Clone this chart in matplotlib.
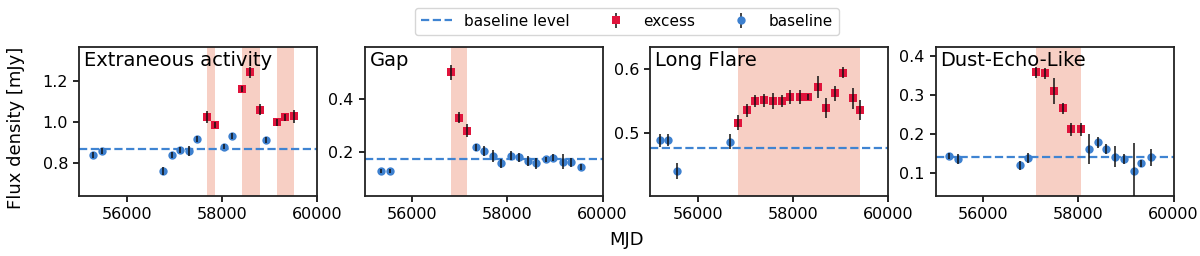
import matplotlib
matplotlib.use("Agg")
import matplotlib.pyplot as plt

# ---------------- data ----------------
titles = ["Extraneous activity", "Gap", "Long Flare", "Dust-Echo-Like"]

# Panel 1: Extraneous activity
p1_base_x = [55283, 55480, 56761, 56951, 57112, 57302, 57479, 58041, 58204, 58936]
p1_base_y = [0.839, 0.860, 0.761, 0.839, 0.863, 0.859, 0.917, 0.880, 0.932, 0.912]
p1_base_e = [0.014, 0.014, 0.018, 0.015, 0.015, 0.026, 0.013, 0.013, 0.015, 0.013]
p1_exc_x = [57687, 57856, 58419, 58588, 58791, 59158, 59319, 59517]
p1_exc_y = [1.023, 0.985, 1.161, 1.242, 1.060, 0.998, 1.023, 1.028]
p1_exc_e = [0.030, 0.016, 0.015, 0.029, 0.027, 0.017, 0.016, 0.033]
p1_level = 0.867
p1_spans = [(57687, 57856), (58419, 58791), (59158, 59517)]

# Panel 2: Gap
p2_base_x = [55338, 55527, 57348, 57516, 57696, 57872, 58067, 58235, 58430, 58605,
             58806, 58967, 59177, 59338, 59539]
p2_base_y = [0.127, 0.127, 0.217, 0.203, 0.185, 0.156, 0.185, 0.179, 0.166, 0.156,
             0.172, 0.177, 0.162, 0.160, 0.143]
p2_base_e = [0.008, 0.008, 0.013, 0.019, 0.022, 0.016, 0.017, 0.018, 0.018, 0.020,
             0.010, 0.013, 0.028, 0.016, 0.012]
p2_exc_x = [56804, 56984, 57160]
p2_exc_y = [0.501, 0.330, 0.280]
p2_exc_e = [0.028, 0.020, 0.025]
p2_level = 0.171
p2_spans = [(56804, 57160)]

# Panel 3: Long Flare
p3_base_x = [55196, 55378, 55568, 56677]
p3_base_y = [0.4895, 0.4895, 0.441, 0.487]
p3_base_e = [0.010, 0.009, 0.013, 0.012]
p3_exc_x = [56852, 57036, 57212, 57402, 57579, 57769, 57947, 58144, 58320, 58519,
            58689, 58886, 59062, 59253, 59416]
p3_exc_y = [0.5166, 0.536, 0.5505, 0.552, 0.5505, 0.551, 0.557, 0.557, 0.557, 0.573,
            0.540, 0.5625, 0.595, 0.5547, 0.5364]
p3_exc_e = [0.012, 0.010, 0.009, 0.010, 0.012, 0.009, 0.011, 0.011, 0.005, 0.017,
            0.016, 0.012, 0.009, 0.016, 0.016]
p3_level = 0.4766
p3_spans = [(56852, 59416)]

# Panel 4: Dust-Echo-Like
p4_base_x = [55279, 55470, 56763, 56946, 58212, 58409, 58579, 58778, 58954, 59166,
             59321, 59533]
p4_base_y = [0.1444, 0.1367, 0.121, 0.140, 0.162, 0.1795, 0.162, 0.1426, 0.1367, 0.106,
             0.1256, 0.141]
p4_base_e = [0.008, 0.012, 0.011, 0.012, 0.038, 0.015, 0.013, 0.027, 0.012, 0.071,
             0.008, 0.022]
p4_exc_x = [57116, 57307, 57485, 57682, 57845, 58049]
p4_exc_y = [0.359, 0.3564, 0.311, 0.2667, 0.2128, 0.2128]
p4_exc_e = [0.015, 0.013, 0.033, 0.014, 0.017, 0.017]
p4_level = 0.141
p4_spans = [(57116, 58049)]

ylims = [(0.638, 1.366), (0.032, 0.597), (0.402, 0.635), (0.042, 0.424)]
yticks = [[0.8, 1.0, 1.2], [0.2, 0.4], [0.5, 0.6], [0.1, 0.2, 0.3, 0.4]]
xticks = [56000, 58000, 60000]

panels = [
    (p1_base_x, p1_base_y, p1_base_e, p1_exc_x, p1_exc_y, p1_exc_e, p1_level, p1_spans),
    (p2_base_x, p2_base_y, p2_base_e, p2_exc_x, p2_exc_y, p2_exc_e, p2_level, p2_spans),
    (p3_base_x, p3_base_y, p3_base_e, p3_exc_x, p3_exc_y, p3_exc_e, p3_level, p3_spans),
    (p4_base_x, p4_base_y, p4_base_e, p4_exc_x, p4_exc_y, p4_exc_e, p4_level, p4_spans),
]

# ---------------- style ----------------
BLUE = "#3d80cf"
LINE_BLUE = "#3f84d2"
RED = "#e0143c"
SPAN = "#f7cfc4"

plt.rcParams["font.family"] = ["DejaVu Sans"]

fig, axes = plt.subplots(1, 4, figsize=(12, 2.56), dpi=100)
fig.subplots_adjust(left=0.066, right=0.978, bottom=0.234, top=0.816, wspace=0.2)

handles = None
for i, ax in enumerate(axes):
    bx, by, be, ex, ey, ee, lvl, spans = panels[i]
    for (s0, s1) in spans:
        ax.axvspan(s0, s1, color=SPAN, lw=0, zorder=0)
    hl = ax.axhline(lvl, color=LINE_BLUE, ls="--", lw=1.6, zorder=1,
                    label="baseline level")
    he = ax.errorbar(ex, ey, yerr=ee, fmt="s", color=RED, ms=6, mew=0,
                     ecolor="#111111", elinewidth=1.1, capsize=2.3, capthick=1.1,
                     barsabove=True, zorder=3, label="excess")
    hb = ax.errorbar(bx, by, yerr=be, fmt="o", color=BLUE, ms=6, mew=0,
                     ecolor="#111111", elinewidth=1.1, capsize=2.3, capthick=1.1,
                     barsabove=True, zorder=3, label="baseline")
    if handles is None:
        handles = [hl, he, hb]
    ax.set_xlim(55000, 60000)
    ax.set_xticks(xticks)
    ax.set_ylim(*ylims[i])
    ax.set_yticks(yticks[i])
    ax.set_yticklabels([f"{t:.1f}" for t in yticks[i]])
    ax.tick_params(labelsize=11.5, length=4.5, width=1.2, colors="black")
    for sp in ax.spines.values():
        sp.set_linewidth(1.3)
        sp.set_color("#222222")
    ax.text(0.02, 0.975, titles[i], transform=ax.transAxes, ha="left", va="top",
            fontsize=14, zorder=5)

fig.text(0.5225, 0.064, "MJD", ha="center", va="center", fontsize=13)
fig.text(0.013, 0.5, "Flux density [mJy]", ha="center", va="center",
         rotation=90, fontsize=13)

fig.legend(handles, ["baseline level", "excess", "baseline"], loc="upper center",
           bbox_to_anchor=(0.5225, 1.0), ncol=3, fontsize=11, frameon=True,
           edgecolor="#cccccc", fancybox=True)

fig.savefig("out.png", dpi=100)
